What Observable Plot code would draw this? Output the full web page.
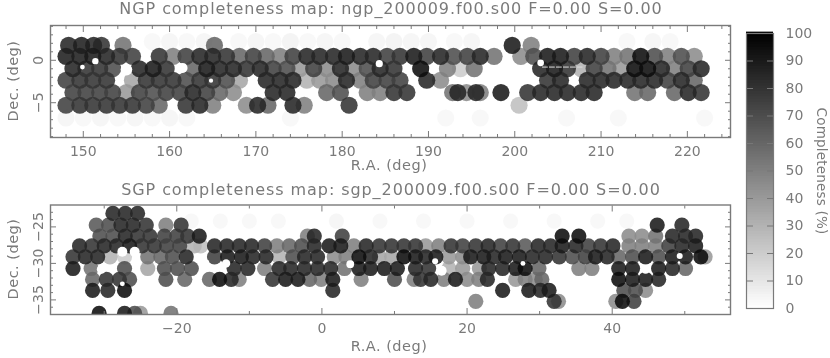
<!DOCTYPE html>
<html><head><meta charset="utf-8">
<script src="https://cdn.jsdelivr.net/npm/d3@7"></script>
<script src="https://cdn.jsdelivr.net/npm/@observablehq/plot@0.6"></script>
<style>
html,body{margin:0;padding:0;background:#fff}
#page{position:relative;width:830px;height:358px;overflow:hidden;font-family:"DejaVu Sans",sans-serif;color:#7a7a7a;filter:blur(.7px)}
#page svg{position:absolute;left:0;overflow:visible;background:transparent}
.ttl{position:absolute;left:0;width:782px;text-align:center;font-size:16px;line-height:16px;letter-spacing:.92px;white-space:nowrap}
</style></head><body><div id="page"></div>
<script>
const ngpTitle="NGP completeness map: ngp_200009.f00.s00 F=0.00 S=0.00";
const sgpTitle="SGP completeness map: sgp_200009.f00.s00 F=0.00 S=0.00";

const ngpDec=[2.2,1.75,0.47,-1.0,-2.35,-3.8,-5.3,-6.8];
const ngpRa=[
[158,160,162,164,168,170,172,174,176,178,180,184,186,188,190,193,195,213,216,218],
[148.3,149.8,151.2,152.1,154.6,165.2,199.7,201.9],
[148,149.6,151.1,152.7,154.2,155.7,158.8,160.4,161.9,163.5,165,166.6,168.1,169.7,171.2,172.8,174.3,175.9,177.4,179,180.5,182.1,183.6,185.2,186.7,188.3,189.8,191.4,192.9,194.5,196,197.6,200.7,202.2,203.8,205.3,206.9,208.4,210,211.5,213.1,214.6,216.2,217.7,219.3,220.8],
[148.8,150.3,151.9,153.4,156.5,158.1,159.6,162.7,164.3,165.8,167.4,168.9,170.5,172,173.6,175.1,176.7,178.2,179.8,181.3,182.9,184.4,186,189.1,192.2,193.7,195.3,203,204.6,206.1,207.7,209.2,210.8,212.3,213.9,215.4,217,218.5,220.1,221.6],
[148,149.6,151.1,152.7,155.7,157.3,158.8,160.4,161.9,163.5,165,166.6,168.1,171.2,172.8,174.3,175.9,177.4,179,180.5,182.1,183.6,185.2,186.7,189.8,191.4,203.8,205.3,208.4,210,211.5,213.1,214.6,216.2,217.7,219.3,220.8],
[148.8,150.3,151.9,153.4,155,156.5,158.1,159.6,161.2,162.7,164.3,165.8,167.4,172,173.6,178.2,179.8,182.9,184.4,186,187.5,192.8,193.4,194.4,195.5,196,198.4,201.5,203,204.6,206.1,207.7,209.2,213.9,215.4,218.5,220.1,221.6],
[148,149.6,151.1,152.7,154.2,155.7,157.3,158.8,161.9,163.5,165,168.9,170.2,171.4,174.3,175.6,180.8,200.5],
[148,150,152,154,156,158,160,162,174,192,196,206,212,222]];
const ngpC=[
[3,4,3,4,3,4,3,5,3,4,3,4,5,4,4,3,4,3,4,3],
[85,88,85,80,55,60,90,50],
[88,88,90,85,80,75,80,50,75,85,85,80,60,75,60,50,75,85,85,85,90,85,85,75,80,90,75,85,70,75,85,55,45,70,90,90,75,85,75,50,55,95,70,50,70,45],
[85,80,80,70,85,90,80,60,90,85,85,80,85,75,70,40,75,45,85,45,70,85,80,95,50,20,55,85,90,80,30,75,55,40,95,95,85,50,75,85],
[75,80,80,80,35,80,80,80,70,80,80,70,35,85,85,85,30,40,45,85,50,75,75,75,85,45,80,85,85,85,85,85,85,85,75,85,60],
[75,75,75,75,40,75,70,75,75,85,75,60,45,85,85,60,70,50,50,80,80,55,85,45,85,50,90,80,85,85,85,85,85,55,60,60,85,80,85],
[75,80,80,80,80,80,75,60,80,85,50,45,85,60,85,50,80,25],
[4,3,4,3,4,3,4,3,3,3,3,3,3,3]];

const ngpHoleRa=[151.4,149.9,184.3,203.0,190.5,155.0,161.5,164.8];
const ngpHoleDec=[-0.1,-0.8,-0.4,-0.3,-1.2,-1.1,-0.9,-2.4];
const ngpHoleR=[1.8,1,2.3,2,2.3,6,4.5,0.8];
const ngpStreakRa=[203.2,207.8];
const ngpStreakDec=[-0.8,-0.8];

const sgpDec=[-24.2,-23.15,-24.75,-26.25,-27.6,-29.1,-30.7,-32.2,-33.7,-35.2,-36.85];
const sgpRa=[
[-18,-14,-10,-6,2,8,14,20,26,32,38,42],
[-28.8,-27.1,-25.4],
[-31.1,-29.4,-27.7,-26,-24.2,-21.5,-19.4,46.2,49.6],
[-30.6,-28.8,-27.1,-25.4,-23.7,-21.7,-20,-18.5,-16.9,-2,-1.05,2.8,33.1,35.4,42.3,44.1,46,48.3,50.1,51.5],
[-33.4,-31.7,-30,-28.3,-26.5,-24.8,-23.1,-21.4,-19.6,-17.6,-16.7,-14.8,-13.1,-11.4,-9.7,-7.9,-6.2,-4.5,-2.8,-1.05,1,2.6,4.4,6.1,7.9,9.6,11.3,12.9,14.3,16.1,17.8,19.4,21.2,22.9,24.6,26.3,28,29.8,31.5,33.1,35,36.7,38.4,40.1,42.3,44.1,46,47.8,49.6,51.5],
[-34.3,-32.6,-30.9,-29.2,-27.2,-24,-22.2,-20.6,-18.7,-14.8,-13,-11.1,-9.5,-7.7,-5.9,-4,-2.4,-0.6,1.7,3.3,5.1,6.7,7.9,9.6,11.3,12.9,14.3,15.7,17.5,19.4,20.5,22.3,23.7,25.3,27.2,29,30.8,32.7,34.5,36.3,37.7,39.3,40.9,42.8,44.6,46.4,48.3,50.1,52.2,52.8],
[-34.3,-31.8,-27.2,-24,-21.7,-19.9,-18,-12.1,-10.2,-7.9,-5.9,-4.3,-2.4,-0.6,1.2,3.1,5.1,6.7,8.6,10.4,12.9,14.7,17.5,19.4,21.7,23,24.9,26.7,28,29.9,35.4,37.2,40.9,42.8,46.4,48.3,50.1],
[-31.6,-29.7,-27.9,-26.5,-21.5,-18.9,-15.5,-14.1,-12.5,-11.4,-6.8,-5,-3.3,-1.7,-0.1,1.5,5.4,10,12.7,13.6,15,16.8,18.4,20,21.6,22.8,26.7,28,29.4,30.3,40.9,42.8,44.6,46.4],
[-31.6,-29.5,-27.2,1.5,24.9,28.5,30.1,31.3,41.6,43.2,44.6],
[21.2,32,32.6,40.5,41.4,43],
[-30.7,-27.2,-25.8,-25,-20.8]];
const sgpC=[
[3,3,3,3,4,3,3,3,3,3,3,3],
[85,85,85],
[65,70,85,85,80,50,80,90,85],
[70,70,85,80,80,75,75,80,90,50,85,75,95,95,45,45,55,85,85,85],
[85,80,85,85,90,80,80,75,75,30,25,85,85,85,85,75,50,60,70,85,90,90,50,85,80,80,80,80,40,50,80,75,80,85,75,80,65,85,85,90,85,75,80,85,50,50,50,75,85,90],
[80,85,85,30,20,55,60,70,85,75,90,90,85,85,30,70,85,85,45,50,95,85,35,35,95,90,85,90,40,45,90,90,85,90,90,85,85,80,70,75,90,85,60,70,90,70,90,90,95,40],
[90,55,70,35,70,70,70,85,85,50,85,85,85,85,85,55,90,90,90,90,85,80,30,40,40,85,85,90,95,60,50,50,90,90,90,85,60],
[60,80,80,70,70,60,60,95,85,50,80,90,90,60,50,90,50,70,50,80,85,50,90,45,50,85,40,50,45,60,95,90,90,85],
[90,85,95,85,90,90,85,90,70,70,45],
[50,80,45,45,95,75],
[95,90,70,40,55]];
const sgpHoleRa=[3.9,-25.8,-27.5,15.6,44.6,49.3,27.7,-27.5,-16.1,-13.2,-30.4,16.5];
const sgpHoleDec=[-30.1,-28.4,-28.4,-29.7,-30.8,-29,-30,-32.8,-30,-30,-30.8,-31];
const sgpHoleR=[3,5,5,1.8,4,1.8,1.2,1.2,4,3.5,4,5];

const barLevels=d3.range(0,100,1);
const barMajor=[0,10,20,30,40,50,60,70,80,90,100];
const ngpXMajor=[150,160,170,180,190,200,210,220];
const ngpXMinor=[148,152,154,156,158,162,164,166,168,172,174,176,178,182,184,186,188,192,194,196,198,202,204,206,208,212,214,216,218,222,224];
const ngpYMajor=[-5,0];
const ngpYMinor=[-9,-8,-7,-6,-4,-3,-2,-1,1,2,3,4];
const sgpXMajor=[-20,0,20,40];
const sgpXMinor=[-30,-10,10,30,50];
const sgpYMajor=[-35,-30,-25];
const sgpYMinor=[-36,-34,-33,-32,-31,-29,-28,-27,-26,-24,-23];

const ink="#7a7a7a";
const textInk="#7a7a7a";
const colorScale={type:"linear",domain:[0,100],range:["#ffffff","#000000"]};
const flat=(ra,c,dec)=>ra.flatMap((row,i)=>row.map((x,j)=>({ra:x,dec:dec[i],c:c[i][j]}))).sort((a,b)=>a.c-b.c);
const holes=(a,b,r)=>a.map((x,i)=>({ra:x,dec:b[i],r:r[i]}));
const fmt=d=>String(d).replace("-","\u2212");

function panel(o){
  const {xDom,yDom,xMajor,xMinor,yMajor,yMinor,rows,holeData,dotR,extra,height,top,bottom}=o;
  return Plot.plot({
    width:830,height,marginLeft:50,marginRight:100,marginTop:top,marginBottom:bottom,
    style:{fontFamily:'"DejaVu Sans",sans-serif',fontSize:"14px",color:textInk,background:"transparent"},
    x:{domain:xDom},y:{domain:yDom},color:colorScale,
    marks:[
      Plot.dot(rows,{x:"ra",y:"dec",r:dotR,fill:"c",fillOpacity:.88,clip:true}),
      Plot.dot(holeData,{x:"ra",y:"dec",r:"r",fill:"#fff",clip:true}),
      ...(extra||[]),
      Plot.frame({stroke:ink,strokeWidth:1.4}),
      Plot.axisX({ticks:xMajor,tickFormat:fmt,tickSize:-6,tickPadding:15,stroke:ink,fill:textInk,label:null,fontSize:14}),
      Plot.axisX({ticks:xMinor,tickSize:-3,text:null,label:null,stroke:ink}),
      Plot.axisX({anchor:"top",ticks:xMajor,tickSize:-6,text:null,label:null,stroke:ink}),
      Plot.axisX({anchor:"top",ticks:xMinor,tickSize:-3,text:null,label:null,stroke:ink}),
      Plot.axisY({ticks:yMajor,tickFormat:fmt,tickSize:-6,tickPadding:14,tickRotate:-90,textAnchor:"middle",stroke:ink,fill:textInk,label:null,fontSize:14}),
      Plot.axisY({ticks:yMinor,tickSize:-3,text:null,label:null,stroke:ink}),
      Plot.axisY({anchor:"right",ticks:yMajor,tickSize:-6,text:null,label:null,stroke:ink}),
      Plot.axisY({anchor:"right",ticks:yMinor,tickSize:-3,text:null,label:null,stroke:ink})
    ]
  });
}

const page=document.getElementById("page");
function place(el,top){el.style.top=top+"px";page.appendChild(el);}

place(panel({xDom:[146.2,225],yDom:[-9.1,4.1],xMajor:ngpXMajor,xMinor:ngpXMinor,yMajor:ngpYMajor,yMinor:ngpYMinor,
  rows:flat(ngpRa,ngpC,ngpDec),holeData:holes(ngpHoleRa,ngpHoleDec,ngpHoleR),dotR:8.6,height:168,top:25,bottom:31,
  extra:[Plot.line(ngpStreakRa.map((x,i)=>({x,y:ngpStreakDec[i]})),{x:"x",y:"y",stroke:"#ddd",strokeDasharray:"5,2",strokeWidth:1})]}),0);
place(panel({xDom:[-37.4,56.3],yDom:[-37,-22],xMajor:sgpXMajor,xMinor:sgpXMinor,yMajor:sgpYMajor,yMinor:sgpYMinor,
  rows:flat(sgpRa,sgpC,sgpDec),holeData:holes(sgpHoleRa,sgpHoleDec,sgpHoleR),dotR:7.6,height:183,top:29.5,bottom:44}),175);

const bar=Plot.plot({
  width:830,height:340,marginLeft:746,marginRight:57,marginTop:33,marginBottom:32,
  style:{fontFamily:'"DejaVu Sans",sans-serif',fontSize:"14px",color:textInk,background:"transparent"},
  x:{domain:[0,1],axis:null},y:{domain:[0,100]},color:colorScale,
  marks:[
    Plot.rect(barLevels,{x1:0,x2:1,y1:d=>d,y2:d=>d+1.5,fill:d=>d+0.5}),
    Plot.frame({stroke:ink,strokeWidth:1.2}),
    Plot.axisY({ticks:barMajor,tickSize:-7,text:null,label:null,stroke:"#777"}),
    Plot.axisY({anchor:"right",ticks:barMajor,tickSize:-7,tickPadding:19,stroke:"#777",fill:textInk,label:null,fontSize:14})
  ]
});
place(bar,0);

const labels=[
 ["R.A. (deg)",389,165,0,14.5,.5],["R.A. (deg)",389,346,0,14.5,.5],
 ["Dec. (deg)",13,81,-90,14.5,.5],["Dec. (deg)",13,259,-90,14.5,.5],
 ["Completeness (%)",822,171,90,13.5,.2]];
for(const [t,x,y,rot,fs,ls] of labels){
  const d=document.createElement("div");
  d.textContent=t;
  d.style.cssText=`position:absolute;left:${x}px;top:${y}px;transform:translate(-50%,-50%) rotate(${rot}deg);font-size:${fs}px;letter-spacing:${ls}px;white-space:nowrap`;
  page.appendChild(d);
}
for(const [t,y] of [[ngpTitle,1],[sgpTitle,182]]){
  const d=document.createElement("div");d.className="ttl";d.textContent=t;d.style.top=y+"px";page.appendChild(d);
}
</script></body></html>
